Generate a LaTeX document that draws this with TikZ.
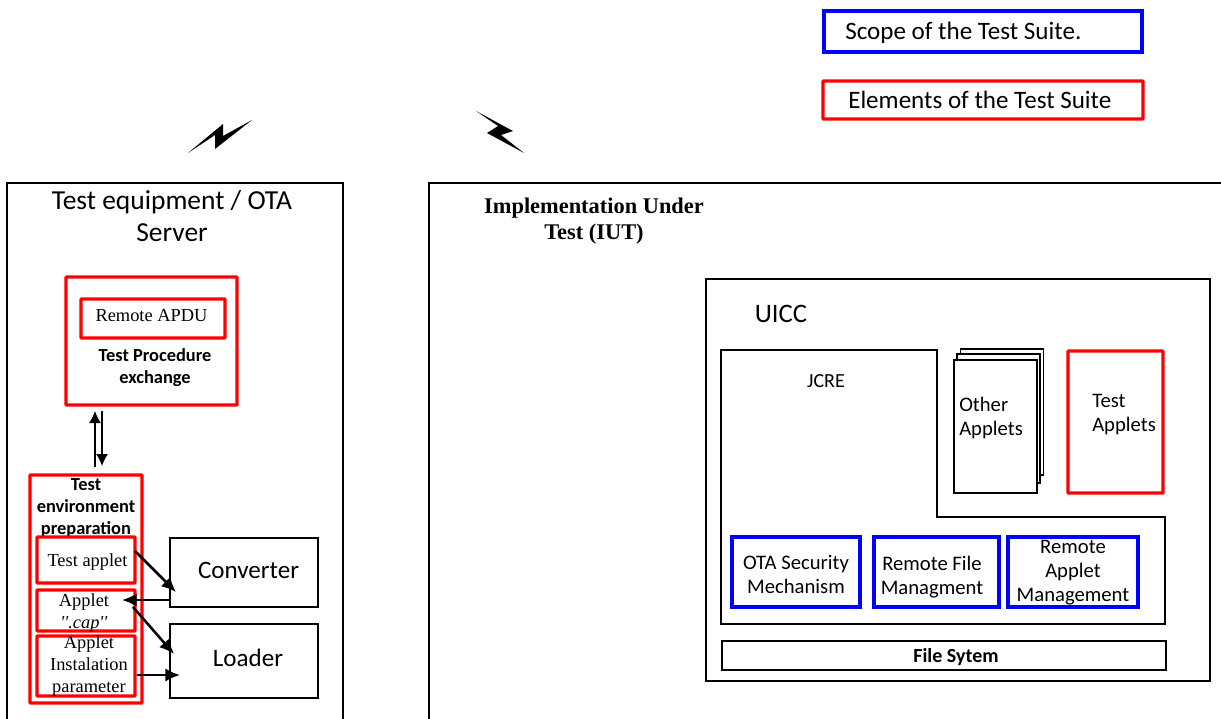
\documentclass[tikz,border=0pt]{standalone}
\usepackage{fontspec}
\setmainfont{Carlito}
\newfontfamily\serifface{Liberation Serif}
\usetikzlibrary{arrows.meta}
\tikzset{
	px/.style 2 args={minimum width=#1*0.75pt, minimum height=#2*0.75pt, inner sep=0pt},
	blackbox/.style={draw=black, line width=1.1pt, fill=white},
	redbox/.style={draw=red, line width=2.5pt, rounded corners=0.5pt},
	bluebox/.style={draw=blue, line width=2.5pt},
	serifnote/.style={font=\serifface\fontsize{13.8}{16.5}\selectfont, align=center, inner sep=0pt},
	note/.style={font=\fontsize{15.5}{18}\selectfont, align=center, inner sep=0pt},
	bignote/.style={font=\fontsize{18.8}{23.5}\selectfont, align=center, inner sep=0pt},
	boldnote/.style={font=\bfseries\fontsize{13.8}{16.4}\selectfont, align=center, inner sep=0pt},
	flow/.style={-{Latex[length=11pt,width=10pt]}, line width=1.9pt},
	thinflow/.style={-{Latex[length=9pt,width=9pt]}, line width=1pt}
}
\begin{document}
\begin{tikzpicture}[x=0.75pt, y=-0.75pt]

	\clip (0, 0) rectangle (1221, 718);
	\useasboundingbox (0, 0) rectangle (1221, 718);

% legend
\node[bluebox, px={318}{41}] (scope) at (983, 31.5) {};
\node[bignote, anchor=west] (scopetext) at (845, 33) {Scope of the Test Suite.};
\node[redbox, px={320}{38}] (elements) at (983, 100) {};
\node[bignote, anchor=west] (elementstext) at (848, 100) {Elements of the Test Suite};

% radio links
\fill[black] (188, 153) -- (223, 124) -- (223, 136) -- (252, 120) -- (215, 149) -- (215, 135) -- cycle;
\fill[black] (476, 111) -- (513, 131) -- (501, 135) -- (524, 153) -- (487, 133) -- (498, 126) -- cycle;

% test equipment side
\node[blackbox, px={336}{560}] (server) at (175, 463) {};
\node[font=\fontsize{20.6}{24}\selectfont, align=center, inner sep=0pt] (servertext) at (172, 216) {Test equipment / OTA\\Server};
\node[redbox, px={171}{128}] (exchange) at (151.5, 341) {};
\node[redbox, px={144}{39}] (apdu) at (153, 318.5) {};
\node[serifnote] (apdutext) at (151.5, 316) {Remote APDU};
\node[boldnote] (exchangetext) at (155, 368) {Test Procedure\\exchange};
\node[redbox, px={112}{228}] (prep) at (86, 589) {};
\node[boldnote] (preptext) at (86, 508) {Test\\environment\\preparation};
\node[redbox, px={98}{46}] (testapplet) at (86, 560) {};
\node[serifnote] (testapplettext) at (87.5, 562) {Test applet};
\node[redbox, px={98}{41}] (cap) at (86, 610.5) {};
\node[serifnote] (captext) at (84, 613) {Applet\\\textit{''.cap''}};
\node[redbox, px={98}{60}] (param) at (86, 666) {};
\node[serifnote] (paramtext) at (89, 666) {Applet\\Instalation\\parameter};
\node[blackbox, px={148}{69}] (converter) at (244, 572.5) {};
\node[bignote] (convertertext) at (248.5, 570) {Converter};
\node[blackbox, px={148}{74}] (loader) at (244, 661) {};
\node[bignote] (loadertext) at (248, 658) {Loader};

\coordinate (upfrom) at (95, 467);
\coordinate (upto) at (95, 411);
\coordinate (downfrom) at (102, 411);
\coordinate (downto) at (102, 466);
\draw[thinflow] (upfrom) -- (upto);
\draw[thinflow] (downfrom) -- (downto);

\coordinate (appletout) at (135, 551);
\coordinate (convin) at (176, 592);
\coordinate (capin) at (122, 600);
\coordinate (capout) at (133, 607);
\coordinate (loadin) at (174, 654);
\coordinate (paramin) at (180, 675);
\draw[flow] (appletout) -- (convin);
\draw[flow] (converter.west |- capin) -- (capin);
\draw[flow] (capout) -- (loadin);
\draw[flow] (param.east |- paramin) -- (paramin);

% implementation side
\node[blackbox, px={810}{560}] (iut) at (834, 463) {};
\node[font=\serifface\bfseries\fontsize{16.8}{19.5}\selectfont, align=center, inner sep=0pt] (iuttext) at (594, 221) {Implementation Under\\Test (IUT)};
\node[blackbox, px={504}{402}] (uicc) at (958, 480) {};
\node[font=\fontsize{20}{24}\selectfont, inner sep=0pt] (uicctext) at (781, 314) {UICC};

\draw[black, line width=1.1pt] (721, 350) -- (937, 350) -- (937, 517) -- (1165, 517) -- (1165, 624) -- (721, 624) -- cycle;
\node[font=\fontsize{15}{18}\selectfont, inner sep=0pt] (jcre) at (826, 381) {JCRE};

\foreach \name/\x/\y/\h in {
	backapplets/1002/412/126,
	midapplets/998.5/418.5/129}
\node[blackbox, px={83}{\h}] (\name) at (\x, \y) {};
\node[blackbox, px={83}{133}] (otherapplets) at (995.5, 426.5) {};
\node[note, align=left, anchor=west] (othertext) at (959, 418) {Other\\Applets};
\node[redbox, px={95}{142}] (testapplets) at (1115.5, 422) {};
\node[note, align=left, anchor=west] (testappletstext) at (1092, 415) {Test\\Applets};

\foreach \name/\x/\w/\tx/\ty/\text in {
	otabox/796/128/796/574/{OTA Security\\Mechanism},
	filebox/936.5/125/932/577/{Remote File\\Managment},
	appletbox/1073/130/1073/573/{Remote\\Applet\\Management}}
{
\node[bluebox, px={\w}{70}] (\name) at (\x, 572) {};
\node[note] (\name text) at (\tx, \ty) {\text};
}

\node[blackbox, px={444}{29}] (filesystem) at (944, 655.5) {};
\node[font=\bfseries\fontsize{15}{18}\selectfont, inner sep=0pt] (filetext) at (956, 657) {File Sytem};

\end{tikzpicture}
\end{document}
